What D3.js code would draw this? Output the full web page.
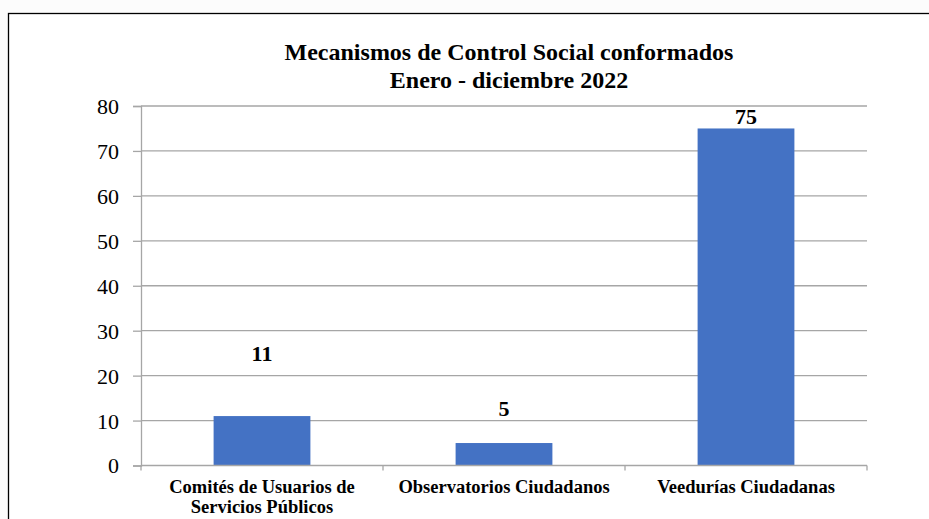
<!DOCTYPE html>
<html>
<head>
<meta charset="utf-8">
<script src="https://cdn.jsdelivr.net/npm/d3@7"></script>
<style>
  body { margin: 0; background: #fcfcfc; }
  svg { display: block; }
  svg text { font-family: 'Liberation Serif', 'Times New Roman', serif; }
</style>
</head>
<body>
<script>
// data
var categories = [
  ["Comités de Usuarios de", "Servicios Públicos"],
  ["Observatorios Ciudadanos"],
  ["Veedurías Ciudadanas"]
];
var values = [11, 5, 75];
var yTicks = [0, 10, 20, 30, 40, 50, 60, 70, 80];
var titleLines = ["Mecanismos de Control Social conformados", "Enero - diciembre 2022"];

// how far each value label sits above its bar (px), as in the original
var labelLift = [55, 27, 4];

var W = 929, H = 519;
var plotLeft = 141, plotRight = 867, plotTop = 106, plotBottom = 465.5;
var serif = "'Liberation Serif', 'Times New Roman', serif";

let svg = d3.select("body")
            .append("svg")
            .attr("width", W)
            .attr("height", H);

// white chart area with thin border
svg.append("rect")
    .attr("x", 8.5).attr("y", 13.5)
    .attr("width", W + 10).attr("height", H)
    .attr("fill", "#fff")
    .attr("stroke", "#000")
    .attr("stroke-width", 1.3);

let x = d3.scaleBand()
    .domain(d3.range(categories.length))
    .range([plotLeft, plotRight])
    .paddingInner(0.6)
    .paddingOuter(0.3);

let y = d3.scaleLinear()
    .domain([0, 80])
    .range([plotBottom, plotTop]);

// gridlines
svg.append("g")
    .selectAll("line")
    .data(yTicks.slice(1))
    .enter().append("line")
    .attr("x1", plotLeft).attr("x2", plotRight)
    .attr("y1", d => y(d)).attr("y2", d => y(d))
    .attr("stroke", "#a6a6a6")
    .attr("stroke-width", 1.3);

// y axis
let yAxis = svg.append("g")
    .attr("transform", "translate(" + plotLeft + ",0)")
    .call(d3.axisLeft(y).tickValues(yTicks).tickSize(8).tickPadding(14))
    .attr("font-family", serif)
    .attr("font-size", 22);
yAxis.select(".domain").attr("stroke", "#a6a6a6").attr("stroke-width", 1.3);
yAxis.selectAll(".tick line").attr("stroke", "#a6a6a6").attr("stroke-width", 1.3);
yAxis.selectAll("text")
    .style("font-family", serif)
    .style("font-size", "22px")
    .attr("fill", "#000")
    .attr("dy", "0.34em");

// bars
svg.append("g")
    .selectAll("rect")
    .data(values)
    .enter().append("rect")
    .attr("x", (d, i) => x(i))
    .attr("y", d => y(d))
    .attr("width", x.bandwidth())
    .attr("height", d => y(0) - y(d))
    .attr("fill", "#4472c4");

// x axis line + ticks at category boundaries
let xg = svg.append("g");
xg.append("line")
    .attr("x1", plotLeft).attr("x2", plotRight)
    .attr("y1", plotBottom).attr("y2", plotBottom)
    .attr("stroke", "#a6a6a6").attr("stroke-width", 1.3);
let bounds = d3.range(categories.length + 1).map(i => plotLeft + i * x.step());
xg.selectAll(".bt")
    .data(bounds)
    .enter().append("line")
    .attr("x1", d => d).attr("x2", d => d)
    .attr("y1", plotBottom).attr("y2", plotBottom + 5)
    .attr("stroke", "#a6a6a6").attr("stroke-width", 1.3);

// category labels
svg.append("g")
    .selectAll("text")
    .data(categories)
    .enter().append("text")
    .attr("x", (d, i) => x(i) + x.bandwidth() / 2)
    .attr("y", 493)
    .attr("text-anchor", "middle")
    .attr("font-weight", "bold")
    .attr("font-size", 18.5)
    .each(function(d) {
        let cx = d3.select(this).attr("x");
        d3.select(this).selectAll("tspan")
            .data(d)
            .enter().append("tspan")
            .attr("x", cx)
            .attr("dy", (t, j) => j ? 20 : 0)
            .text(t => t);
    });

// value labels
svg.append("g")
    .selectAll("text")
    .data(values)
    .enter().append("text")
    .attr("x", (d, i) => x(i) + x.bandwidth() / 2)
    .attr("y", (d, i) => y(d) - labelLift[i])
    .attr("text-anchor", "middle")
    .attr("font-weight", "bold")
    .attr("font-size", 22)
    .text(d => d);

// title
svg.append("text")
    .attr("x", 509)
    .attr("y", 60)
    .attr("text-anchor", "middle")
    .attr("font-weight", "bold")
    .attr("font-size", 24)
    .selectAll("tspan")
    .data(titleLines)
    .enter().append("tspan")
    .attr("x", 509)
    .attr("dy", (t, j) => j ? 28 : 0)
    .text(t => t);
</script>
</body>
</html>
